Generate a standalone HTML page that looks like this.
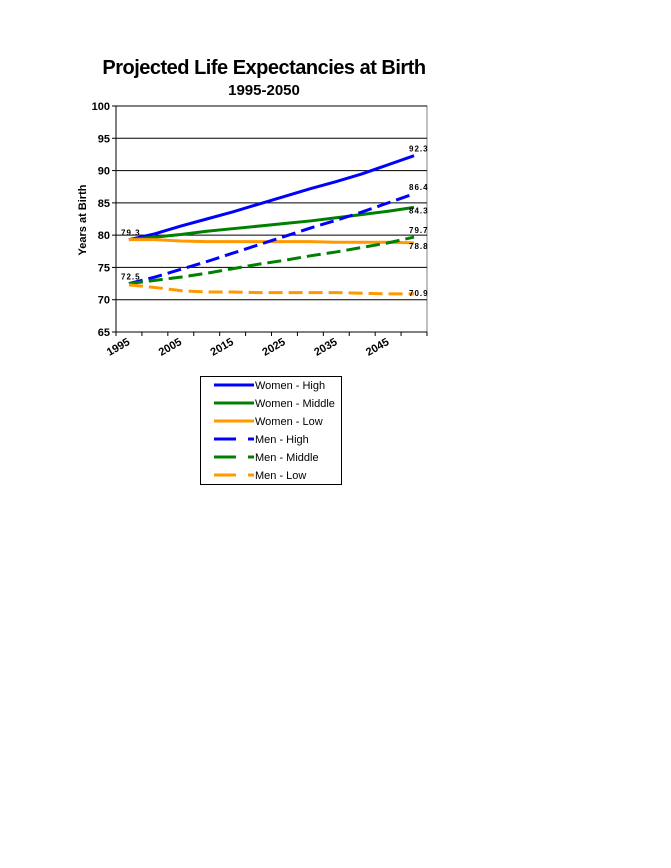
<!DOCTYPE html>
<html><head><meta charset="utf-8"><style>
body{margin:0;background:#fff;width:671px;height:863px;overflow:hidden;font-family:"Liberation Sans",Arial,sans-serif}
</style></head><body>
<svg id="chart" width="671" height="863" xmlns="http://www.w3.org/2000/svg" font-family="Liberation Sans, Arial, sans-serif">
<text x="264" y="74" text-anchor="middle" font-size="20" font-weight="bold" letter-spacing="-0.5">Projected Life Expectancies at Birth</text>
<text x="264" y="95" text-anchor="middle" font-size="15" font-weight="bold">1995-2050</text>
<text transform="translate(86,220) rotate(-90)" text-anchor="middle" font-size="11" font-weight="bold">Years at Birth</text>
<g id="plot"></g>
<g id="legend"></g>
</svg>
<script>
const categories=["1995","2000","2005","2010","2015","2020","2025","2030","2035","2040","2045","2050"];
const yTicks=[65,70,75,80,85,90,95,100];
const womenHigh=[79.3,80.2,81.4,82.5,83.6,84.8,86.0,87.2,88.3,89.5,90.9,92.3];
const womenMiddle=[79.3,79.7,80.1,80.6,81.0,81.4,81.8,82.2,82.7,83.2,83.7,84.3];
const womenLow=[79.3,79.3,79.1,79.0,79.0,79.0,79.0,79.0,78.9,78.9,78.9,78.8];
const menHigh=[72.5,73.5,74.7,75.9,77.2,78.5,79.8,81.1,82.3,83.6,85.0,86.4];
const menMiddle=[72.5,73.0,73.5,74.1,74.8,75.5,76.1,76.8,77.4,78.1,78.8,79.7];
const menLow=[72.3,71.9,71.4,71.2,71.2,71.1,71.1,71.1,71.1,71.0,70.9,70.9];
const seriesNames=["Women - High","Women - Middle","Women - Low","Men - High","Men - Middle","Men - Low"];
const NS="http://www.w3.org/2000/svg";
const L=116,R=427,T=106,B=332,yMin=65,yMax=100;
const bw=(R-L)/categories.length;
const xs=i=>L+bw*(i+0.5);
const ys=v=>B-(v-yMin)/(yMax-yMin)*(B-T);
const plot=document.getElementById('plot');
function mk(tag,attrs,parent){const e=document.createElementNS(NS,tag);for(const k in attrs)e.setAttribute(k,attrs[k]);(parent||plot).appendChild(e);return e;}
// plot area
const area=mk('rect',{x:L,y:T,width:R-L,height:B-T,fill:'#fff',stroke:'#808080','stroke-width':1});


yTicks.forEach(v=>{
  const y=ys(v);
  if(v>yMin){const g=mk('line',{x1:L,x2:R,y1:y,y2:y,stroke:'#000','stroke-width':1});
  
  }
  mk('line',{x1:L-4,x2:L,y1:y,y2:y,stroke:'#000'});
  const t=mk('text',{x:L-6,y:y+4,'text-anchor':'end','font-size':11,'font-weight':'bold'});
  t.textContent=v;
  
  
});
mk('line',{x1:L,x2:L,y1:T,y2:B,stroke:'#000'});
mk('line',{x1:L,x2:R,y1:B,y2:B,stroke:'#000'});
for(let i=0;i<=categories.length;i++){const x=L+bw*i;mk('line',{x1:x,x2:x,y1:B,y2:B+4,stroke:'#000'});}
categories.forEach((c,i)=>{
  if(i%2)return;
  const x=L+bw*i+4,y=B+18;
  const t=mk('text',{x:x,y:y,'text-anchor':'middle','font-size':11,'font-weight':'bold',transform:`rotate(-30 ${x} ${y})`});
  t.textContent=c;
  
  
});
const all=[womenHigh,womenMiddle,womenLow,menHigh,menMiddle,menLow];
const colors=['#0000ff','#008000','#ff9900','#0000ff','#008000','#ff9900'];
all.forEach((s,k)=>{
  const p=mk('polyline',{points:s.map((v,i)=>xs(i)+','+ys(v)).join(' '),fill:'none',stroke:colors[k],'stroke-width':3,'stroke-dasharray':k>=3?'14,6':'none'});
  
  
});
function lab(txt,x,y){const t=mk('text',{x:x,y:y,'font-size':8,'font-weight':'bold','letter-spacing':'1'});t.textContent=txt;
  
  }
lab(womenHigh[0].toFixed(1),121,ys(womenHigh[0])-4);
lab(menHigh[0].toFixed(1),121,ys(menHigh[0])-4);
const last=categories.length-1;
lab(womenHigh[last].toFixed(1),409,ys(womenHigh[last])-4);
lab(menHigh[last].toFixed(1),409,ys(menHigh[last])-4);
lab(womenMiddle[last].toFixed(1),409,ys(womenMiddle[last])+6);
lab(menMiddle[last].toFixed(1),409,ys(menMiddle[last])-4);
lab(womenLow[last].toFixed(1),409,ys(womenLow[last])+6);
lab(menLow[last].toFixed(1),409,ys(menLow[last])+2);
// legend
const lg=document.getElementById('legend');
mk('rect',{x:200.5,y:376.5,width:141,height:108,fill:'#fff',stroke:'#000'},lg);
seriesNames.forEach((n,k)=>{
  const y=385+k*18;
  const ln=mk('line',{x1:214,x2:254,y1:y,y2:y,stroke:colors[k],'stroke-width':3,'stroke-dasharray':k>=3?'22,12,6,40':'none'},lg);
  
  
  const t=mk('text',{x:255,y:y+4,'font-size':11},lg);
  t.textContent=n;
  
  
});
</script>
</body></html>
